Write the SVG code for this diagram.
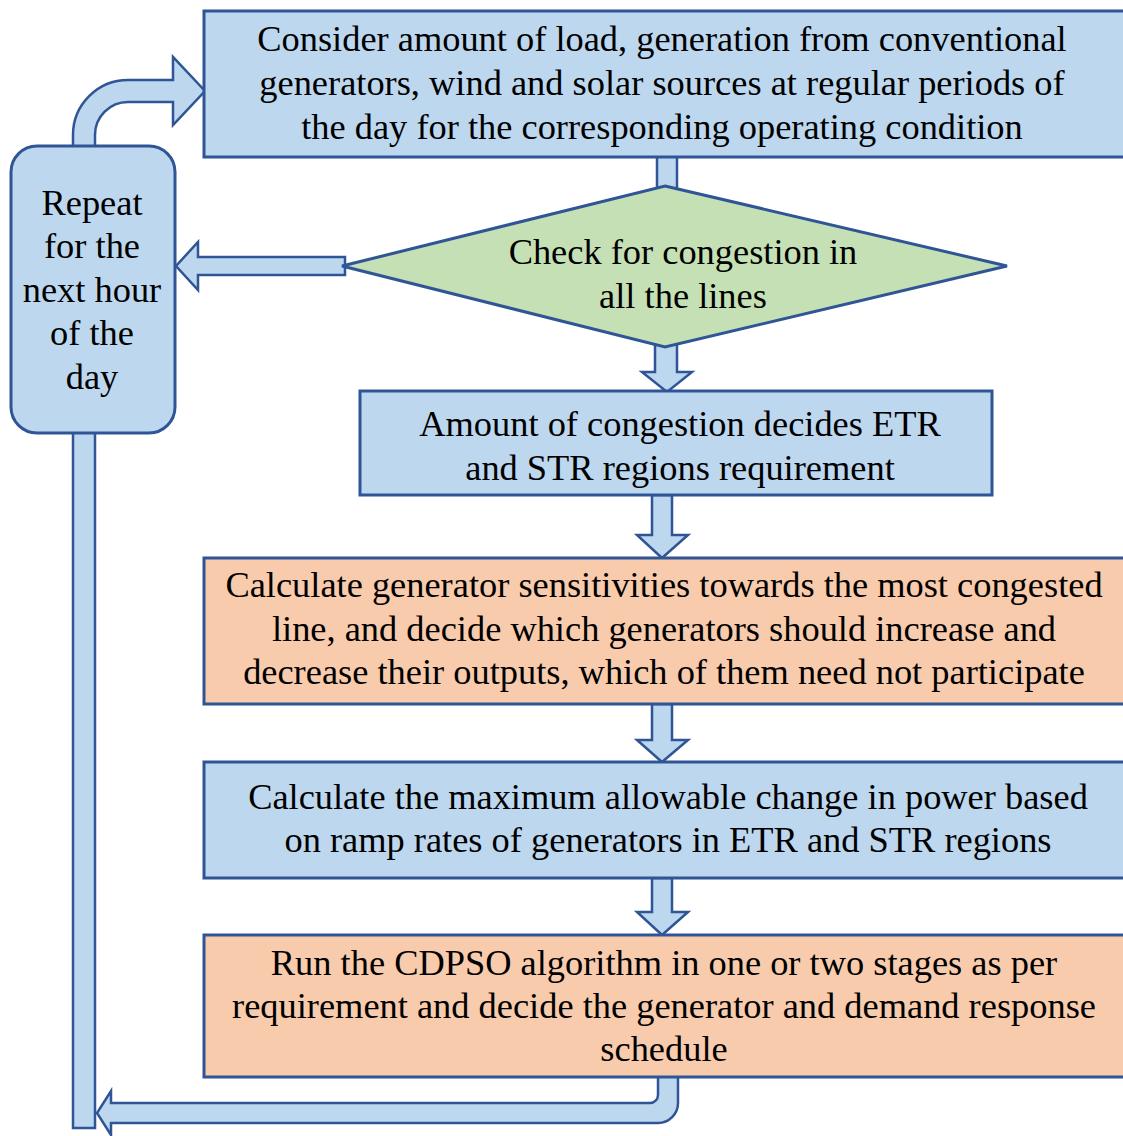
<svg xmlns="http://www.w3.org/2000/svg" width="1123" height="1136" viewBox="0 0 1123 1136">
<style>
.blue{fill:#BDD7EE;stroke:#2F5597;stroke-width:3}
.green{fill:#C5E0B4;stroke:#2F5597;stroke-width:3}
.orange{fill:#F8CBAD;stroke:#2F5597;stroke-width:3}
.arr{fill:#BDD7EE;stroke:#2F5597;stroke-width:2.5;stroke-linejoin:miter}
text{font-family:"Liberation Serif","Times New Roman",serif;font-size:36.4px;fill:#000;text-anchor:middle}
</style>
<rect width="1123" height="1136" fill="#fff"/>
<g id="connectors">
<rect class="arr" x="657" y="155" width="20" height="40"/>
<path class="arr" d="M655,335 L655,372 L642,372 L667,392 L692,372 L677,372 L677,335 Z"/>
<path class="arr" d="M652,495 L652,535 L637,535 L662,558 L688,535 L672,535 L672,495 Z"/>
<path class="arr" d="M652,704 L652,740 L637,740 L662,762 L688,740 L672,740 L672,704 Z"/>
<path class="arr" d="M652,878 L652,912 L637,912 L662,935 L688,912 L672,912 L672,878 Z"/>
<path class="arr" d="M345,257 L198,257 L198,242 L176,266 L198,290 L198,275 L345,275 Z"/>
<path class="arr" d="M73,148 L73,135 A55,55 0 0 1 128,80 L173,80 L173,57 L205,91 L173,125 L173,102 L128,102 A33,33 0 0 0 95,135 L95,148 Z"/>
<rect class="arr" x="73" y="430" width="22" height="698"/>
<path class="arr" d="M658,1075 L658,1095 A8,8 0 0 1 650,1103 L111,1103 L111,1091 L97,1113 L111,1135 L111,1123 L658,1123 A20,20 0 0 0 678,1103 L678,1075 Z"/>
</g>
<g id="node-load">
<rect class="blue" x="204" y="11" width="922" height="146"/>
<text x="662" y="51">Consider amount of load, generation from conventional</text>
<text x="662" y="95">generators, wind and solar sources at regular periods of</text>
<text x="662" y="139">the day for the corresponding operating condition</text>
</g>
<g id="node-check">
<polygon class="green" points="665,186 1007,266 665,347 342,266"/>
<text x="683" y="264">Check for congestion in</text>
<text x="683" y="308">all the lines</text>
</g>
<g id="node-amount">
<rect class="blue" x="360" y="391" width="632" height="104"/>
<text x="680" y="436">Amount of congestion decides ETR</text>
<text x="680" y="480">and STR regions requirement</text>
</g>
<g id="node-sens">
<rect class="orange" x="204" y="558" width="922" height="146"/>
<text x="664" y="597">Calculate generator sensitivities towards the most congested</text>
<text x="664" y="641">line, and decide which generators should increase and</text>
<text x="664" y="684">decrease their outputs, which of them need not participate</text>
</g>
<g id="node-ramp">
<rect class="blue" x="204" y="762" width="922" height="116"/>
<text x="668" y="809">Calculate the maximum allowable change in power based</text>
<text x="668" y="852">on ramp rates of generators in ETR and STR regions</text>
</g>
<g id="node-cdpso">
<rect class="orange" x="204" y="935" width="922" height="142"/>
<text x="664" y="975">Run the CDPSO algorithm in one or two stages as per</text>
<text x="664" y="1018">requirement and decide the generator and demand response</text>
<text x="664" y="1061">schedule</text>
</g>
<g id="node-repeat">
<rect class="blue" x="11" y="146" width="164" height="287" rx="26" ry="26"/>
<text x="92" y="215">Repeat</text>
<text x="92" y="258">for the</text>
<text x="92" y="302">next hour</text>
<text x="92" y="345">of the</text>
<text x="92" y="389">day</text>
</g>
</svg>
